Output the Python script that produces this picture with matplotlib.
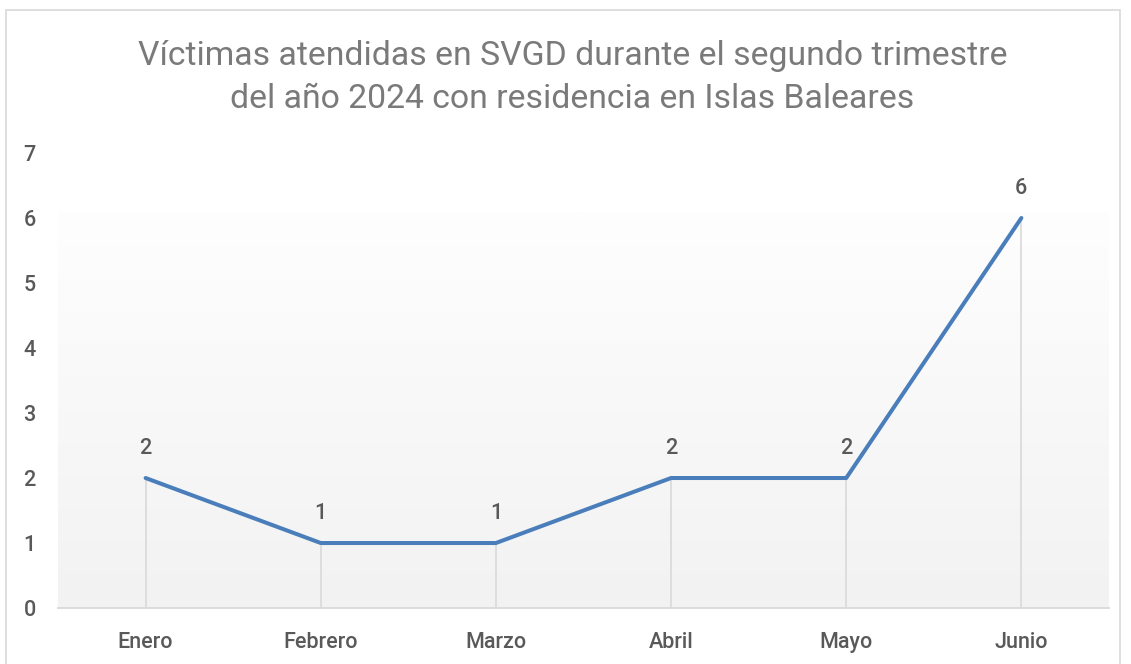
import numpy as np
import matplotlib.pyplot as plt
from matplotlib.patches import Rectangle
from matplotlib.colors import LinearSegmentedColormap

plt.rcParams['font.family'] = ['Roboto', 'DejaVu Sans']

# datos
meses = ['Enero', 'Febrero', 'Marzo', 'Abril', 'Mayo', 'Junio']
victimas = [2, 1, 1, 2, 2, 6]
titulo = 'Víctimas atendidas en SVGD durante el segundo trimestre\ndel año 2024 con residencia en Islas Baleares'

fig = plt.figure(figsize=(11.31, 6.64), dpi=100)
ax = fig.add_axes([0.0513, 0.0843, 0.9292, 0.6853])

x = np.arange(len(meses))

# fondo degradado del área de trazado
cmap = LinearSegmentedColormap.from_list('grad', ['#f2f2f2', '#fefefe'])
grad = np.linspace(0, 1, 256).reshape(-1, 1)
ax.imshow(grad, extent=(-0.5, len(meses) - 0.5, 0, 6.08), origin='lower',
          cmap=cmap, aspect='auto', zorder=0)

# líneas de caída
ax.vlines(x, 0, victimas, color='#d9d9d9', lw=1.2, zorder=1)
ax.plot(x, victimas, color='#4a7ebb', lw=2.9, solid_capstyle='round',
        solid_joinstyle='round', zorder=3)

for xi, v in zip(x, victimas):
    ax.annotate(str(v), (xi, v), xytext=(0, 14), textcoords='offset points',
                ha='center', va='bottom', fontsize=15.5, color='#595959',
                fontweight='medium')

ax.set_xlim(-0.5, len(meses) - 0.5)
ax.set_ylim(0, 7)
ax.set_yticks(range(0, 8))
ax.set_xticks(x)
ax.set_xticklabels(meses)
ax.tick_params(axis='both', length=0, labelsize=15.5, labelcolor='#595959')
ax.tick_params(axis='x', pad=17)
ax.tick_params(axis='y', pad=16)
for lbl in ax.get_xticklabels() + ax.get_yticklabels():
    lbl.set_fontweight('medium')
for s in ['top', 'right', 'left']:
    ax.spines[s].set_visible(False)
ax.spines['bottom'].set_color('#d9d9d9')
ax.spines['bottom'].set_linewidth(1.3)
ax.set_facecolor('white')

fig.text(0.506, 0.883, titulo, ha='center', va='center', fontsize=24.3,
         color='#7a7a7a', linespacing=1.45)

# borde del gráfico
fig.patches.append(Rectangle((0.005, -0.01), 0.985, 0.995, transform=fig.transFigure,
                             fill=False, edgecolor='#d9d9d9', lw=1.2))

fig.savefig('out.png', dpi=100)
